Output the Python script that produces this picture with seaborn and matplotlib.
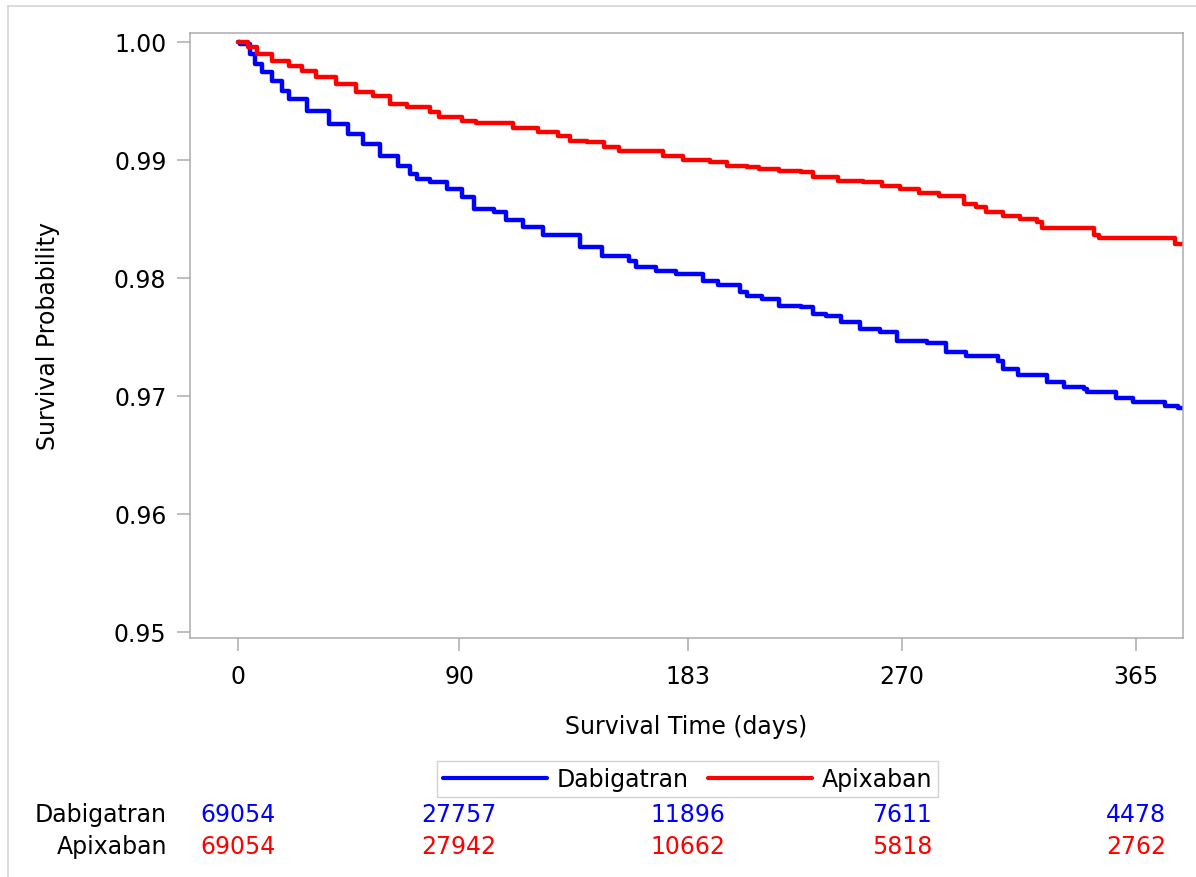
import matplotlib
matplotlib.use("Agg")
import matplotlib.pyplot as plt
import pandas as pd
import seaborn as sns
from matplotlib.lines import Line2D
from matplotlib.transforms import blended_transform_factory

# Kaplan-Meier step estimates (day of event, survival probability from that day on)
dabigatran_days = [0, 1, 5, 7, 10, 14, 18, 21, 28, 37, 45, 51, 58, 65, 70, 73, 78,
                   85, 91, 96, 104, 109, 116, 124, 139, 148, 159, 162, 170, 178,
                   189, 195, 204, 207, 213, 220, 229, 234, 239, 245, 253, 261, 268,
                   280, 288, 296, 309, 311, 317, 329, 336, 344, 345, 357, 364, 377,
                   382, 384]
dabigatran_surv = [1.00000, 0.99983, 0.99898, 0.99814, 0.99746, 0.99669, 0.99585,
                   0.99517, 0.99415, 0.99305, 0.99220, 0.99136, 0.99034, 0.98949,
                   0.98881, 0.98839, 0.98814, 0.98754, 0.98686, 0.98585, 0.98560,
                   0.98492, 0.98432, 0.98364, 0.98263, 0.98186, 0.98144, 0.98093,
                   0.98059, 0.98034, 0.97975, 0.97941, 0.97881, 0.97847, 0.97822,
                   0.97763, 0.97754, 0.97695, 0.97678, 0.97627, 0.97568, 0.97542,
                   0.97466, 0.97449, 0.97373, 0.97339, 0.97297, 0.97229, 0.97178,
                   0.97119, 0.97076, 0.97059, 0.97034, 0.96983, 0.96949, 0.96915,
                   0.96898, 0.96898]

apixaban_days = [0, 4, 8, 14, 21, 26, 32, 40, 48, 55, 62, 69, 78, 82, 91, 97, 112,
                 122, 130, 135, 142, 149, 155, 173, 181, 192, 199, 207, 212, 220,
                 229, 234, 244, 254, 262, 269, 277, 285, 295, 300, 304, 311, 318,
                 325, 327, 348, 350, 381, 384]
apixaban_surv = [1.00000, 0.99958, 0.99898, 0.99839, 0.99797, 0.99754, 0.99703,
                 0.99644, 0.99576, 0.99542, 0.99475, 0.99449, 0.99407, 0.99364,
                 0.99330, 0.99310, 0.99271, 0.99237, 0.99203, 0.99161, 0.99153,
                 0.99110, 0.99076, 0.99034, 0.99000, 0.98980, 0.98949, 0.98941,
                 0.98924, 0.98907, 0.98898, 0.98856, 0.98822, 0.98814, 0.98780,
                 0.98754, 0.98720, 0.98695, 0.98627, 0.98605, 0.98559, 0.98525,
                 0.98500, 0.98475, 0.98424, 0.98364, 0.98339, 0.98288, 0.98288]

# Number at risk table
risk_days = [0, 90, 183, 270, 365]
dabigatran_at_risk = [69054, 27757, 11896, 7611, 4478]
apixaban_at_risk = [69054, 27942, 10662, 5818, 2762]

groups = ["Dabigatran", "Apixaban"]
palette = {"Dabigatran": "#0000FF", "Apixaban": "#FF0000"}
y_ticks = [0.95, 0.96, 0.97, 0.98, 0.99, 1.00]
y_tick_labels = ["0.95", "0.96", "0.97", "0.98", "0.99", "1.00"]

sns.set_theme(style="white")
plt.rcParams["font.family"] = ["DejaVu Sans"]
plt.rcParams["text.color"] = "black"

W, H = 1196, 878
fig = plt.figure(figsize=(W / 100, H / 100), dpi=100)
fig.patch.set_facecolor("white")

left, right, top, bottom = 190, 1183, 34, 639
ax = fig.add_axes([left / W, 1 - bottom / H, (right - left) / W, (bottom - top) / H])

df = pd.concat([
    pd.DataFrame({"days": dabigatran_days, "surv": dabigatran_surv, "group": "Dabigatran"}),
    pd.DataFrame({"days": apixaban_days, "surv": apixaban_surv, "group": "Apixaban"}),
], ignore_index=True)

sns.lineplot(data=df, x="days", y="surv", hue="group", hue_order=groups,
             palette=palette, estimator=None, drawstyle="steps-post",
             linewidth=3.2, legend=False, ax=ax)

ax.set_xlim(-19.4, 384.2)
ax.set_ylim(0.94949, 1.00076)
ax.set_xticks(risk_days)
ax.set_xticklabels([str(d) for d in risk_days])
ax.set_yticks(y_ticks)
ax.set_yticklabels(y_tick_labels)

frame_col = "#A9ADB2"
for sp in ax.spines.values():
    sp.set_visible(True)
    sp.set_color(frame_col)
    sp.set_linewidth(1.1)
ax.tick_params(axis="both", direction="out", length=9.5, width=1.1,
               color=frame_col, labelsize=17, labelcolor="black")
ax.tick_params(axis="y", pad=7.5, left=True)
ax.tick_params(axis="x", pad=9.5, bottom=True)
ax.grid(False)

ax.set_xlabel("Survival Time (days)", fontsize=17, color="black")
ax.set_ylabel("Survival Probability", fontsize=17, color="black")
ax.xaxis.set_label_coords((686 - left) / (right - left), (bottom - 727) / (bottom - top))
ax.xaxis.label.set_va("center")
ax.yaxis.set_label_coords((48 - left) / (right - left), 0.5)
ax.yaxis.label.set_va("center")

# Legend below the axis label
handles = [Line2D([], [], color=palette[g], lw=3.0) for g in groups]
leg = fig.legend(handles, groups, loc="center",
                 bbox_to_anchor=(687.5 / W, 1 - 780 / H), ncol=2,
                 frameon=True, fancybox=False, fontsize=17, labelcolor="black",
                 handlelength=4.4, handletextpad=0.4, columnspacing=0.85,
                 borderpad=0.25)
leg.get_frame().set_edgecolor("#C8C8C8")
leg.get_frame().set_linewidth(1.0)

# Number-at-risk rows
trans = blended_transform_factory(ax.transData, fig.transFigure)
rows = [("Dabigatran", dabigatran_at_risk, 822), ("Apixaban", apixaban_at_risk, 854)]
for name, counts, base_px in rows:
    fig.text(167 / W, 1 - base_px / H, name, ha="right", va="baseline",
             fontsize=17, color="black")
    for d, n in zip(risk_days, counts):
        ax.text(d, 1 - base_px / H, str(n), transform=trans, ha="center",
                va="baseline", fontsize=17, color=palette[name], clip_on=False)

# Thin outer frame on the top and left edges
border = "#D4D4D4"
fig.add_artist(Line2D([8 / W, 8 / W], [0, 1 - 7 / H], transform=fig.transFigure,
                      color=border, lw=1.2))
fig.add_artist(Line2D([8 / W, 1], [1 - 7 / H, 1 - 7 / H], transform=fig.transFigure,
                      color=border, lw=1.2))

fig.savefig("out.png", dpi=100)
